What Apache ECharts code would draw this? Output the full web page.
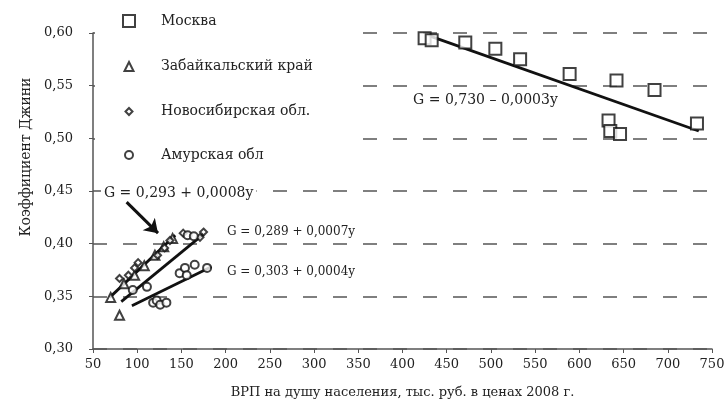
<!DOCTYPE html>
<html><head><meta charset="utf-8">
<script src="https://cdn.jsdelivr.net/npm/echarts@6/dist/echarts.min.js"></script>
<style>html,body{margin:0;padding:0;background:#fff}#c{width:728px;height:407px}</style>
</head><body><div id="c"></div>
<script>
// ---- data ----
const seriesNames = ['Москва', 'Забайкальский край', 'Новосибирская обл.', 'Амурская обл'];
const moscowX = [425, 433, 471, 505, 533, 589, 642, 685, 633, 635, 646, 733];
const moscowY = [0.595, 0.593, 0.591, 0.585, 0.575, 0.561, 0.555, 0.546, 0.517, 0.507, 0.504, 0.514];
const zabX = [70, 80, 85, 97, 108, 120, 130, 140];
const zabY = [0.349, 0.332, 0.362, 0.370, 0.379, 0.389, 0.397, 0.405];
const novoX = [80, 90, 97, 101, 123, 131, 137, 152, 171, 175];
const novoY = [0.367, 0.370, 0.377, 0.382, 0.389, 0.396, 0.403, 0.410, 0.406, 0.411];
const amurX = [95, 111, 118, 122, 126, 133, 148, 154, 156, 165, 179, 157, 164];
const amurY = [0.356, 0.359, 0.344, 0.346, 0.342, 0.344, 0.372, 0.377, 0.370, 0.380, 0.377, 0.408, 0.407];
// regression lines (end points)
const moscowFitX = [428, 735], moscowFitY = [0.598, 0.507];
const zabFitX = [69, 143], zabFitY = [0.349, 0.408];
const novoFitX = [82, 175], novoFitY = [0.345, 0.409];
const amurFitX = [94, 184], amurFitY = [0.341, 0.378];
const arrowX = [88, 123.5], arrowY = [0.4395, 0.410];
const equations = ['G = 0,730 – 0,0003y', 'G = 0,293 + 0,0008y', 'G = 0,289 + 0,0007y', 'G = 0,303 + 0,0004y'];
const eqPosX = [412, 59, 201.5, 201.5];
const eqPosY = [0.536, 0.448, 0.411, 0.373];
const xName = 'ВРП на душу населения, тыс. руб. в ценах 2008 г.';
const yName = 'Коэффициент Джини';

const zip = (a, b) => a.map((v, i) => [v, b[i]]);
const FONT = 'DejaVu Serif';
const mk = (name, sym, size, xs, ys) => ({
  name, type: 'scatter', symbol: sym, symbolSize: size, z: 5,
  data: zip(xs, ys),
  itemStyle: { color: '#fff', borderColor: '#111', borderWidth: 2 }
});
const fit = (xs, ys) => ({
  type: 'line', data: zip(xs, ys), symbol: 'none', z: 4, silent: true,
  lineStyle: { color: '#111', width: 2.8 }
});

const legendSpec = [
  { name: seriesNames[0], w: 12, cy: 20 },
  { name: seriesNames[1], w: 9, cy: 64 },
  { name: seriesNames[2], w: 7, cy: 108 },
  { name: seriesNames[3], w: 8, cy: 152 }
];

const chart = echarts.init(document.getElementById('c'));
chart.setOption({
  animation: false,
  backgroundColor: '#fff',
  textStyle: { fontFamily: FONT },
  grid: { left: 93, right: 16, top: 33, bottom: 58 },
  xAxis: {
    type: 'value', min: 50, max: 750, interval: 50,
    name: xName, nameLocation: 'middle', nameGap: 37,
    nameTextStyle: { fontFamily: FONT, fontSize: 13, color: '#222' },
    axisLine: { lineStyle: { color: '#555', width: 1.5 } },
    axisTick: { length: 4, lineStyle: { color: '#555' } },
    axisLabel: { fontFamily: FONT, fontSize: 13, color: '#222', margin: 9 },
    splitLine: { show: false }
  },
  yAxis: {
    type: 'value', min: 0.30, max: 0.60, interval: 0.05,
    name: yName, nameLocation: 'middle', nameGap: 60,
    nameTextStyle: { fontFamily: FONT, fontSize: 14, color: '#222', padding: [0, 0, 0, 68] },
    axisLine: { show: true, lineStyle: { color: '#555', width: 1.5 } },
    axisTick: { show: true, length: 4, lineStyle: { color: '#555' } },
    axisLabel: { fontFamily: FONT, fontSize: 13, color: '#222', margin: 20,
      formatter: v => v.toFixed(2).replace('.', ',') },
    splitLine: { show: true, lineStyle: { color: '#555', width: 1.5, type: [14, 16] } }
  },
  legend: legendSpec.map(s => ({
    data: [s.name], selectedMode: false, orient: 'vertical',
    left: 128 - s.w / 2, top: s.cy - s.w / 2, padding: 0,
    itemWidth: s.w, itemHeight: s.w,
    textStyle: { fontFamily: FONT, fontSize: 14, color: '#222', padding: [0, 0, 0, 160 - (128 + s.w / 2 + 5)] }
  })),
  series: [
    mk(seriesNames[0], 'rect', 12, moscowX, moscowY),
    mk(seriesNames[1], 'triangle', 9, zabX, zabY),
    mk(seriesNames[2], 'diamond', 7, novoX, novoY),
    mk(seriesNames[3], 'circle', 8, amurX, amurY),
    fit(moscowFitX, moscowFitY),
    fit(zabFitX, zabFitY),
    fit(novoFitX, novoFitY),
    fit(amurFitX, amurFitY),
    {
      type: 'lines', coordinateSystem: 'cartesian2d', z: 6, silent: true,
      symbol: ['none', 'arrow'], symbolSize: 13,
      lineStyle: { color: '#111', width: 3, opacity: 1 },
      data: [{ coords: zip(arrowX, arrowY) }]
    }
  ]
});

const eqSizes = [14, 14, 12, 12];
const graphics = [
  { type: 'rect', z: 3, silent: true, shape: { x: 95, y: 0, width: 255, height: 172 }, style: { fill: '#fff' } }
];
equations.forEach((t, i) => {
  const p = chart.convertToPixel({ gridIndex: 0 }, [eqPosX[i], eqPosY[i]]);
  graphics.push({
    type: 'text', z: 7, x: p[0], y: p[1], silent: true,
    style: {
      text: t, fill: '#222', font: eqSizes[i] + 'px "' + FONT + '"',
      textVerticalAlign: 'middle', verticalAlign: 'middle', align: 'left',
      backgroundColor: i === 1 ? '#fff' : null, padding: i === 1 ? [1, 3] : 0
    }
  });
});
chart.setOption({ graphic: graphics });
</script></body></html>
